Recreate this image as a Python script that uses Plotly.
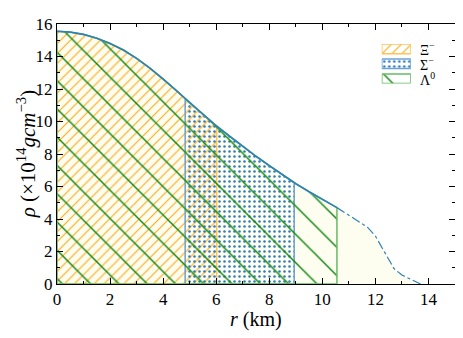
import numpy as np
import plotly.graph_objects as go

# density profile rho(r), in 1e14 g/cm^3
r = [0, 0.5, 1, 1.5, 2, 2.5, 3, 3.5, 4, 4.5, 5, 5.5, 6, 6.5, 7, 7.5, 8,
     8.5, 9, 9.5, 10, 10.5, 11, 11.5, 11.7, 12, 12.25, 12.5, 12.7, 13, 13.3, 13.7]
rho = [15.55, 15.5, 15.36, 15.12, 14.8, 14.4, 13.88, 13.28, 12.62, 11.9, 11.14,
       10.42, 9.74, 9.1, 8.47, 7.86, 7.28, 6.73, 6.17, 5.68, 5.22, 4.75, 4.25, 3.75,
       3.5, 2.95, 2.25, 1.5, 0.95, 0.55, 0.3, 0.0]

# radial extent of each hyperon species (km)
species = ["Ξ<sup>−</sup>", "Σ<sup>−</sup>", "Λ<sup>0</sup>"]
r_start = [0, 4.83, 0]
r_end = [6.02, 8.94, 10.55]
colors = ["#ffa510", "#2f7cc0", "#168a16"]
edge_colors = ["#ffc356", "#6fa2d0", "#66bb66"]
shapes = ["/", ".", "\\"]
sizes = [7, 5, 20]
solid = [0.15, 0.2, 0.075]

r_surf = 10.55

fig = go.Figure()

# pale fill under whole profile
fig.add_trace(go.Scatter(x=r, y=rho, fill="tozeroy", mode="none",
                         fillcolor="#fdfdf0", showlegend=False, hoverinfo="skip"))


def segment(a, b):
    xs = [a] + [xi for xi in r if a < xi < b] + [b]
    ys = list(np.interp(xs, r, rho))
    return xs, ys


def pattern(i):
    return dict(shape=shapes[i], fgcolor=colors[i], bgcolor="rgba(0,0,0,0)",
                fgopacity=1, size=sizes[i], solidity=solid[i], fillmode="overlay")


for i, (a, b) in enumerate(zip(r_start, r_end)):
    xs, ys = segment(a, b)
    xs = [a] + xs + [b, a]
    ys = [0] + ys + [0, 0]
    fig.add_trace(go.Scatter(
        x=xs, y=ys, mode="lines", fill="toself", showlegend=False,
        fillcolor="rgba(0,0,0,0)", line=dict(color=edge_colors[i], width=1.5),
        fillpattern=pattern(i), hoverinfo="skip"))

# profile curve: solid inside, dash-dot outside
xs_in, ys_in = segment(0, r_surf)
xs_out, ys_out = segment(r_surf, r[-1])
fig.add_trace(go.Scatter(x=xs_in, y=ys_in, mode="lines", showlegend=False,
                         line=dict(color="#2f80b8", width=1.6)))
fig.add_trace(go.Scatter(x=xs_out, y=ys_out, mode="lines", showlegend=False,
                         line=dict(color="#2f80b8", width=1.2, dash="dashdot")))

# hand-made legend with hatched boxes on a small overlay axis
row_h, gap = 10, 15.5
for i, name in enumerate(species):
    top = 41 - i * gap
    fig.add_trace(go.Scatter(
        x=[0, 1, 1, 0, 0], y=[top, top, top - row_h, top - row_h, top],
        xaxis="x2", yaxis="y2", mode="lines", fill="toself", showlegend=False,
        fillcolor="rgba(0,0,0,0)", line=dict(color=edge_colors[i], width=1.5),
        fillpattern=pattern(i), hoverinfo="skip"))
    fig.add_annotation(x=0.908, y=0.771 + 0.152 * (top - row_h / 2) / 41,
                       xref="paper", yref="paper", text=name, showarrow=False,
                       xanchor="left", yanchor="middle", font=dict(size=14))

# axis titles placed by hand
fig.add_annotation(x=0.5, y=-0.137, xref="paper", yref="paper", showarrow=False,
                   text="<i>r</i> (km)", font=dict(size=20),
                   xanchor="center", yanchor="middle")
fig.add_annotation(x=-0.077, y=0.5, xref="paper", yref="paper", showarrow=False,
                   text="<i>ρ</i> (×10<sup>14</sup><i>gcm</i><sup>−3</sup>)",
                   font=dict(size=21), textangle=-90,
                   xanchor="center", yanchor="middle")

axis_common = dict(showline=True, linecolor="black", linewidth=1, mirror="ticks",
                   ticks="inside", ticklen=6, tickcolor="black", showgrid=False,
                   zeroline=False, tickfont=dict(size=17), ticklabeloverflow="allow",
                   minor=dict(ticks="inside", ticklen=3, tickcolor="black", dtick=1))

fig.update_xaxes(range=[0, 15], dtick=2, **axis_common)
fig.update_yaxes(range=[0, 16], dtick=2, **axis_common)

fig.update_layout(
    width=455, height=330,
    margin=dict(l=49, r=8, t=7, b=54),
    plot_bgcolor="white", paper_bgcolor="white",
    font=dict(family="Liberation Serif, Times New Roman, serif", size=16, color="black"),
    xaxis2=dict(domain=[0.816, 0.889], range=[0, 1], visible=False, anchor="y2"),
    yaxis2=dict(domain=[0.771, 0.923], range=[0, 41], visible=False, anchor="x2"),
    showlegend=False,
)

fig.write_html("out.html")
